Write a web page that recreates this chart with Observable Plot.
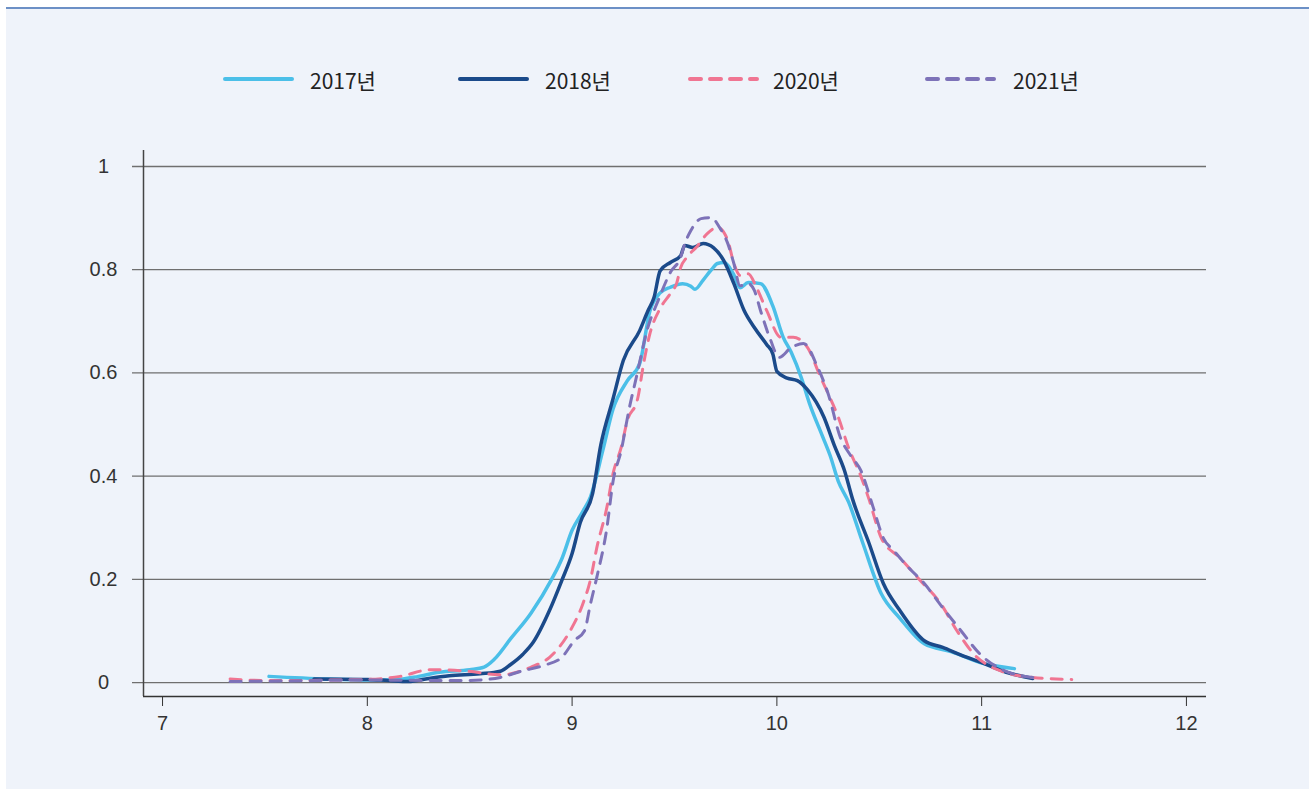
<!DOCTYPE html>
<html>
<head>
<meta charset="utf-8">
<script src="https://cdn.jsdelivr.net/npm/d3@7"></script>
<script src="https://cdn.jsdelivr.net/npm/@observablehq/plot@0.6"></script>
<style>
  html, body { margin: 0; padding: 0; background: #ffffff; }
  body { width: 1309px; height: 789px; position: relative; overflow: hidden; font-family: "Noto Sans CJK KR", "Noto Sans", sans-serif; }
  #panel { position: absolute; left: 6px; top: 7px; width: 1303px; height: 782px; background: #eff3fa; border-top: 2px solid #6c90c6; box-sizing: border-box; }
  #chart { position: absolute; left: 0; top: 120px; }
  .lg { position: absolute; top: 66px; height: 28px; }
  .lg svg { position: absolute; top: 0; }
  .lg span { position: absolute; top: 0; line-height: 28px; font-size: 21px; color: #222; white-space: nowrap; }
</style>
</head>
<body>
<div id="panel"></div>
<div id="legend"></div>
<div id="chart"></div>
<script>
// ---- data ----
const seriesNames = ["2017년", "2018년", "2020년", "2021년"];
const seriesColors = ["#4bbfe8", "#1b4a8a", "#f07592", "#7d72b8"];
const seriesDash = [null, null, "11,9", "11,9"];

const x2017 = [7.52,7.8,8.0,8.15,8.25,8.35,8.5,8.57,8.62,8.7,8.8,8.9,8.95,9.0,9.05,9.09,9.15,9.2,9.27,9.33,9.38,9.43,9.48,9.54,9.58,9.6,9.64,9.68,9.71,9.74,9.79,9.82,9.86,9.92,9.98,10.03,10.07,10.12,10.16,10.22,10.26,10.3,10.35,10.42,10.51,10.6,10.72,10.85,11.01,11.16];
const y2017 = [0.012,0.007,0.005,0.006,0.012,0.02,0.025,0.03,0.045,0.085,0.135,0.2,0.24,0.295,0.33,0.36,0.45,0.53,0.585,0.618,0.72,0.755,0.766,0.773,0.768,0.762,0.78,0.8,0.812,0.814,0.79,0.765,0.775,0.773,0.73,0.67,0.64,0.59,0.54,0.48,0.44,0.39,0.35,0.27,0.172,0.125,0.075,0.06,0.037,0.027];

const x2018 = [7.74,8.0,8.1,8.2,8.3,8.4,8.55,8.65,8.7,8.76,8.81,8.89,8.95,9.0,9.04,9.1,9.14,9.2,9.25,9.33,9.37,9.4,9.43,9.48,9.53,9.55,9.59,9.64,9.69,9.74,9.79,9.84,9.89,9.95,9.98,10.0,10.05,10.1,10.15,10.23,10.28,10.33,10.37,10.45,10.52,10.6,10.72,10.81,10.9,11.01,11.12,11.25];
const y2018 = [0.007,0.006,0.004,0.002,0.008,0.013,0.017,0.022,0.035,0.055,0.078,0.14,0.198,0.25,0.31,0.366,0.46,0.55,0.624,0.682,0.72,0.746,0.798,0.814,0.827,0.847,0.843,0.851,0.843,0.818,0.773,0.721,0.688,0.655,0.637,0.603,0.59,0.585,0.567,0.514,0.46,0.411,0.355,0.27,0.192,0.14,0.081,0.068,0.053,0.037,0.02,0.008];

const x2020 = [7.33,7.5,7.67,7.85,8.0,8.16,8.31,8.49,8.65,8.8,8.89,8.94,8.99,9.05,9.09,9.12,9.17,9.2,9.24,9.27,9.32,9.35,9.38,9.43,9.48,9.51,9.53,9.56,9.61,9.66,9.71,9.76,9.79,9.82,9.86,9.9,9.95,10.02,10.08,10.15,10.21,10.25,10.3,10.35,10.41,10.45,10.51,10.6,10.7,10.8,10.88,10.96,11.09,11.25,11.44];
const y2020 = [0.007,0.004,0.004,0.005,0.006,0.012,0.025,0.022,0.015,0.03,0.049,0.07,0.1,0.15,0.2,0.26,0.34,0.405,0.456,0.508,0.55,0.62,0.676,0.725,0.754,0.773,0.804,0.824,0.845,0.87,0.882,0.857,0.812,0.789,0.792,0.766,0.721,0.669,0.669,0.649,0.595,0.56,0.514,0.455,0.4,0.355,0.28,0.242,0.198,0.153,0.1,0.056,0.023,0.01,0.006];

const x2021 = [7.33,7.6,8.0,8.32,8.49,8.65,8.75,8.86,8.95,9.01,9.06,9.09,9.12,9.17,9.2,9.24,9.28,9.31,9.37,9.42,9.48,9.53,9.55,9.58,9.63,9.68,9.72,9.76,9.79,9.82,9.86,9.89,9.92,9.97,10.01,10.07,10.13,10.2,10.25,10.31,10.36,10.41,10.47,10.52,10.57,10.65,10.72,10.8,10.9,10.99,11.1,11.25];
const y2021 = [0.002,0.003,0.005,0.004,0.004,0.01,0.022,0.033,0.049,0.081,0.1,0.153,0.203,0.3,0.39,0.45,0.533,0.585,0.688,0.74,0.795,0.824,0.85,0.876,0.899,0.901,0.882,0.851,0.812,0.769,0.773,0.76,0.721,0.663,0.63,0.649,0.657,0.61,0.56,0.475,0.44,0.411,0.34,0.28,0.256,0.22,0.192,0.15,0.1,0.056,0.025,0.01];

const xTicks = [7, 8, 9, 10, 11, 12];
const yTicks = [0, 0.2, 0.4, 0.6, 0.8, 1];

const seriesX = [x2017, x2018, x2020, x2021];
const seriesY = [y2017, y2018, y2020, y2021];

// ---- legend ----
const legendPos = [{sw: 225, tx: 310}, {sw: 460, tx: 545}, {sw: 690, tx: 773}, {sw: 927, tx: 1013}];
const legend = document.getElementById("legend");
seriesNames.forEach((name, i) => {
  const item = document.createElement("div");
  item.className = "lg";
  item.style.left = "0px";
  const dash = seriesDash[i] ? `stroke-dasharray="${seriesDash[i]}"` : "";
  item.innerHTML = `<svg width="80" height="28" style="left:${legendPos[i].sw - 2}px"><line x1="2" x2="69" y1="13" y2="13" stroke="${seriesColors[i]}" stroke-width="4" stroke-linecap="round" ${dash}/></svg><span style="left:${legendPos[i].tx}px">${name}</span>`;
  legend.appendChild(item);
});

// ---- chart ----
const xDomain = [6.907, 12.098];
const yDomain = [-0.027, 1.031];

const lineMarks = seriesNames.map((name, i) => {
  const data = seriesX[i].map((x, k) => ({x, y: seriesY[i][k]}));
  return Plot.line(data, {
    x: "x", y: "y",
    stroke: seriesColors[i],
    strokeWidth: seriesDash[i] ? 3 : 3.5,
    strokeDasharray: seriesDash[i] || undefined,
    strokeLinecap: "round",
    strokeLinejoin: "round",
    curve: "monotone-x"
  });
});

const fmtY = d => d === 0 ? "0" : d === 1 ? "1" : d3.format(".1f")(d);

const chart = Plot.plot({
  width: 1309,
  height: 669,
  marginLeft: 143,
  marginRight: 103,
  marginTop: 30,
  marginBottom: 93,
  style: {background: "transparent", fontFamily: "'Liberation Sans', Arial, sans-serif", fontSize: "20px", color: "#333"},
  x: {domain: xDomain, label: null},
  y: {domain: yDomain, label: null},
  marks: [
    Plot.ruleY(yTicks, {y: d => d, stroke: "#6f6f6f", strokeWidth: 1.3, insetLeft: -11}),
    ...lineMarks,
    Plot.ruleX([xDomain[0]], {x: d => d, stroke: "#444", strokeWidth: 1.5}),
    Plot.ruleY([yDomain[0]], {y: d => d, stroke: "#333", strokeWidth: 1.5}),
    Plot.axisX(xTicks, {tickSize: 10, tickPadding: 9, stroke: "#333", fill: "#333", fontSize: 20, label: null, tickFormat: d => String(d)}),
    Plot.axisY(yTicks, {tickSize: 0, text: null, label: null}),
    Plot.text(yTicks, {x: xDomain[0], y: d => d, text: fmtY, dx: -40, textAnchor: "middle", fill: "#333", fontSize: 20})
  ]
});
document.getElementById("chart").appendChild(chart);
</script>
</body>
</html>
